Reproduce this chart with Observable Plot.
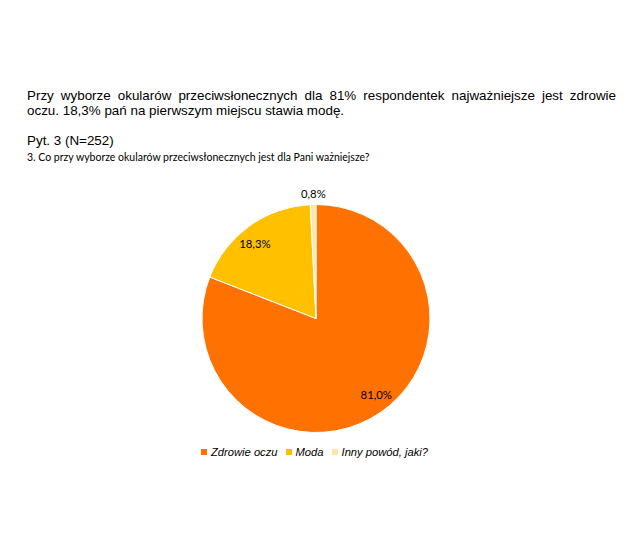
<!DOCTYPE html>
<html>
<head>
<meta charset="utf-8">
<script src="https://cdn.jsdelivr.net/npm/d3@7"></script>
<script src="https://cdn.jsdelivr.net/npm/@observablehq/plot@0.6"></script>
<style>
  html, body { margin: 0; padding: 0; background: #fff; }
  #page { position: relative; width: 644px; height: 556px; overflow: hidden; }
  #lead { position: absolute; left: 27px; top: 89px; width: 589px; font: 13.4px "Liberation Sans", Arial, sans-serif; line-height: 14.8px; text-align: justify; color: #000; }
  #pyt { position: absolute; left: 27px; top: 133px; font: 13.4px "Liberation Sans", Arial, sans-serif; color: #000; }
  #q { position: absolute; left: 27px; top: 151px; font: 10.5px Lato, "Noto Sans", sans-serif; font-weight: normal; color: #000; white-space: nowrap; }
  #chart { position: absolute; left: 0; top: 180px; }
  #legend { position: absolute; left: 201px; top: 446px; display: flex; align-items: center; font: italic 11.2px "Liberation Sans", Arial, sans-serif; color: #000; white-space: nowrap; }
  .sw { display: inline-block; width: 6px; height: 6px; margin-right: 4px; }
  .item { display: flex; align-items: center; margin-right: 8px; }
</style>
</head>
<body>
<div id="page">
  <div id="lead">Przy wyborze okularów przeciwsłonecznych dla 81% respondentek najważniejsze jest zdrowie oczu. 18,3% pań na pierwszym miejscu stawia modę.</div>
  <div id="pyt">Pyt. 3 (N=252)</div>
  <div id="q">3. Co przy wyborze okularów przeciwsłonecznych jest dla Pani ważniejsze?</div>
  <div id="chart"></div>
  <div id="legend"></div>
</div>
<script>
const categories = ["Zdrowie oczu", "Moda", "Inny powód, jaki?"];
const values = [81.0, 18.3, 0.8];
const valueLabels = ["81,0%", "18,3%", "0,8%"];
const colors = ["#FF7100", "#FFC000", "#FFE6A3"];

const data = categories.map((c, i) => ({label: c, value: values[i], text: valueLabels[i]}));
const arcs = d3.pie().sort(null).value(d => d.value)(data);
// label positions in unit-circle coordinates (derived from the slice angles)
const labelData = arcs.map(a => {
  const small = (a.endAngle - a.startAngle) < 0.15;
  const mid = (a.startAngle + a.endAngle) / 2 - (small ? 0 : 0.065);
  const rr = small ? 1.1 : 0.85;
  return {x: Math.sin(mid) * rr, y: Math.cos(mid) * rr, text: a.data.text};
});

function pieMark(index, scales, values, dims) {
  const x = scales.x, y = scales.y, color = scales.color;
  const r = (x(1) - x(-1)) / 2;
  const arc = d3.arc().innerRadius(0).outerRadius(r);
  const g = d3.create("svg:g").attr("transform", `translate(${x(0)},${y(0)})`);
  g.selectAll("path").data(arcs).join("path")
    .attr("d", arc)
    .attr("fill", d => color(d.data.label))
    .attr("stroke", "#fff")
    .attr("stroke-width", 1);
  return g.node();
}

const chart = Plot.plot({
  width: 644,
  height: 270,
  marginLeft: 202,
  marginRight: 214,
  marginTop: 25,
  marginBottom: 18,
  x: {domain: [-1, 1], axis: null},
  y: {domain: [-1, 1], axis: null},
  color: {domain: categories, range: colors},
  style: {background: "transparent", overflow: "visible"},
  marks: [
    Plot.dot(data, {x: () => 0, y: () => 0, fill: "label", r: 0, render: pieMark}),
    Plot.text(labelData, {x: "x", y: "y", text: "text", fill: "#000", fontSize: 11.3, fontFamily: "Lato, 'Noto Sans', sans-serif"})
  ]
});
document.getElementById("chart").appendChild(chart);

const leg = d3.select("#legend");
categories.forEach((c, i) => {
  const it = leg.append("div").attr("class", "item");
  it.append("span").attr("class", "sw").style("background", colors[i]);
  it.append("span").text(c);
});
</script>
</body>
</html>
